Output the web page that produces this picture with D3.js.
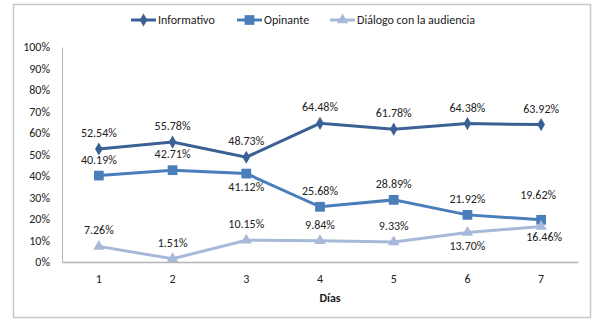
<!DOCTYPE html>
<html lang="es">
<head>
<meta charset="UTF-8">
<title>Días</title>
<script src="https://cdn.jsdelivr.net/npm/d3@7"></script>
<style>
  body { margin: 0; background: #fff; }
  svg text { font-family: Carlito, "Open Sans", "Noto Sans", sans-serif; fill: #222; }
</style>
</head>
<body>
<svg id="chart" width="600" height="323"></svg>
<script>
  const dias = [1, 2, 3, 4, 5, 6, 7]
  const informativo = [52.54, 55.78, 48.73, 64.48, 61.78, 64.38, 63.92]
  const opinante = [40.19, 42.71, 41.12, 25.68, 28.89, 21.92, 19.62]
  const dialogo = [7.26, 1.51, 10.15, 9.84, 9.33, 13.70, 16.46]
  const yTicks = [0, 10, 20, 30, 40, 50, 60, 70, 80, 90, 100]
  const seriesNames = ['Informativo', 'Opinante', 'Diálogo con la audiencia']

  // label placement: 1 = above, -1 = below, 2 = further above
  const informativoPos = [1, 1, 1, 1, 1, 1, 1]
  const opinantePos = [1, 1, -1, 1, 1, 1, 2]
  const dialogoPos = [1, 1, 1, 1, 1, -1, -1]

  const svg = d3.select('#chart')
  const margin = {top: 47, right: 22, bottom: 61, left: 62}
  const innerW = 578 - margin.left
  const innerH = 262 - margin.top

  // outer frame
  svg.append('rect')
    .attr('x', 13.5).attr('y', 4.5)
    .attr('width', 577).attr('height', 313)
    .attr('fill', 'none').attr('stroke', '#c8c8c8').attr('stroke-width', 1.5)

  const g = svg.append('g').attr('transform', `translate(${margin.left},${margin.top})`)

  const x = d3.scaleBand().domain(dias).range([0, innerW])
  const y = d3.scaleLinear().domain([0, 100]).range([innerH, 0])
  const cx = d => x(d) + x.bandwidth() / 2

  const yAxis = g.append('g').call(d3.axisLeft(y).tickValues(yTicks).tickSize(0).tickFormat(d => d + '%'))
  yAxis.select('.domain').attr('stroke', '#b4b4b4')
  yAxis.selectAll('text').attr('x', -12).attr('font-size', '12px')

  const xAxis = g.append('g').attr('transform', `translate(0,${innerH})`)
    .call(d3.axisBottom(x).tickSize(0))
  xAxis.select('.domain').attr('stroke', '#b4b4b4').attr('stroke-width', 1.5)
  xAxis.selectAll('text').attr('y', 12).attr('font-size', '12px')

  g.append('text').text('Días')
    .attr('x', innerW / 2 + 10).attr('y', innerH + 40)
    .attr('text-anchor', 'middle').attr('font-size', '12px').attr('font-weight', 'bold')

  const series = [
    {name: seriesNames[0], values: informativo, color: '#3b6194', shape: d3.symbolDiamond, size: 50, pos: informativoPos},
    {name: seriesNames[1], values: opinante, color: '#4a7ebb', shape: d3.symbolSquare, size: 95, pos: opinantePos},
    {name: seriesNames[2], values: dialogo, color: '#a7b8d8', shape: d3.symbolTriangle, size: 55, pos: dialogoPos}
  ]

  const line = d3.line().x((v, i) => cx(dias[i])).y(v => y(v))

  series.forEach(s => {
    g.append('path').datum(s.values)
      .attr('d', line).attr('fill', 'none')
      .attr('stroke', s.color).attr('stroke-width', 3)
    g.selectAll(null).data(s.values).join('path')
      .attr('d', d3.symbol(s.shape, s.size))
      .attr('transform', (v, i) => `translate(${cx(dias[i])},${y(v)})`)
      .attr('fill', s.color)
  })

  const labelDy = (p, i) => p === 2 ? -21 : p > 0 ? -12 : (i === 6 ? 14 : 17)
  series.forEach(s => {
    g.selectAll(null).data(s.values).join('text')
      .text(v => v.toFixed(2) + '%')
      .attr('x', (v, i) => cx(dias[i]) + (s.pos[i] < 0 && i === 6 ? 3 : s.pos[i] === 2 ? -3 : 0))
      .attr('y', (v, i) => y(v) + labelDy(s.pos[i], i))
      .attr('text-anchor', 'middle').attr('font-size', '12px')
  })

  // legend
  const legendX = [131, 237, 330]
  const legend = svg.append('g').attr('transform', 'translate(0,20)')
  series.forEach((s, i) => {
    const lg = legend.append('g').attr('transform', `translate(${legendX[i]},0)`)
    lg.append('line').attr('x1', 0).attr('x2', 25).attr('stroke', s.color).attr('stroke-width', 3)
    lg.append('path').attr('d', d3.symbol(s.shape, s.size)).attr('transform', 'translate(12.5,0)').attr('fill', s.color)
    lg.append('text').text(s.name).attr('x', 27).attr('y', 4).attr('font-size', '12px')
  })
</script>
</body>
</html>
